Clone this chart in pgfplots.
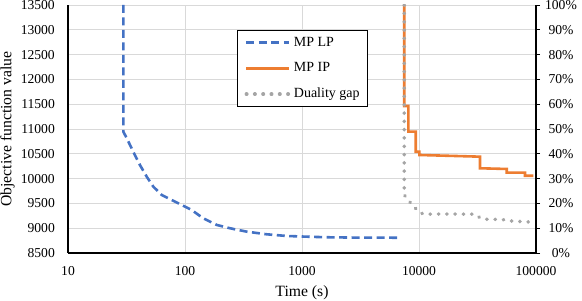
\documentclass[border=0pt]{standalone}
\usepackage{fontspec}
\setmainfont{Liberation Serif}
\usepackage{pgfplots}
\pgfplotsset{compat=1.18}
\definecolor{lpblue}{HTML}{4472C4}
\definecolor{iporange}{HTML}{ED7D31}
\definecolor{gapgray}{HTML}{A5A5A5}
\definecolor{gridgray}{HTML}{D9D9D9}
\tikzset{
  lpstyle/.style={lpblue, line width=2.6bp, dash pattern=on 8bp off 4.5bp},
  ipstyle/.style={iporange, line width=2.6bp},
  gapstyle/.style={gapgray, line width=3.6bp, line cap=round, dash pattern=on 0.4bp off 7.9bp},
}
\begin{document}
\begin{tikzpicture}
\begin{axis}[
  width=468bp, height=248bp, scale only axis,
  xmode=log, xmin=10, xmax=100000,
  /pgf/number format/assume math mode=true,
  /pgf/number format/1000 sep={},
  scaled y ticks=false,
  tick label style={font=\fontsize{13.6bp}{16bp}\selectfont},
  name=main,
  ymin=8500, ymax=13500, ytick distance=500,
  yticklabel={\pgfmathprintnumber[fixed,precision=0,1000 sep={}]{\tick}},
  xtick={10,100,1000,10000,100000}, xticklabels={10,100,1000,10000,100000},
  axis x line*=bottom, axis y line*=left,
  axis line style={-, black, line width=1.2bp},
  grid=major, major grid style={gridgray, line width=0.75bp},
  major tick length=0pt, minor tick length=0pt, tick style={draw=none},
  yticklabel style={anchor=east, inner sep=0pt, xshift=-13bp},
  xticklabel style={anchor=center, inner sep=0pt, yshift=-18bp},
  xlabel={Time (s)}, ylabel={Objective function value},
  label style={font=\fontsize{15.7bp}{18bp}\selectfont},
  xlabel style={at={(axis description cs:0.5,-0.1593)}, anchor=center},
  ylabel style={at={(axis description cs:-0.1293,0.5)}, anchor=center},
  legend style={at={(axis description cs:0.3605,0.899)}, anchor=north west,
    draw=black, line width=0.75bp, fill=white,
    inner xsep=7.5bp, inner ysep=5.7bp, row sep=12.8bp, column sep=2.7bp,
    font=\fontsize{14bp}{16bp}\selectfont,
    nodes={inner sep=0pt, text height=10bp, text depth=3bp, anchor=west}},
  legend cell align=left,
  legend image code/.code={\draw[#1] (0bp,0bp) -- (43bp,0bp);},
]
\addplot[lpstyle] coordinates {
 (29.7,13500) (29.7,10946) (31.8,10813) (36.1,10543) (41.2,10274) (47.1,10038)
 (53.6,9837) (63.2,9670) (77,9569) (93.7,9468) (114,9367) (143,9200) (187,9065)
 (243,8998) (337,8930) (499,8877) (740,8843) (1096,8829) (1626,8817) (3000,8810) (6610,8808)
};
\addlegendentry{MP LP}
\addplot[ipstyle] coordinates {
 (7480,13500) (7480,11464) (8110,11464) (8110,10946) (9380,10946) (9380,10542)
 (10070,10542) (10070,10476) (33200,10442) (33200,10208) (56200,10194) (56200,10119)
 (80500,10119) (80500,10058) (94900,10058)
};
\addlegendentry{MP IP}
\addlegendimage{gapstyle}
\addlegendentry{Duality gap}
\end{axis}
\begin{axis}[
  width=468bp, height=248bp, scale only axis,
  xmode=log, xmin=10, xmax=100000,
  /pgf/number format/assume math mode=true,
  tick label style={font=\fontsize{13.6bp}{16bp}\selectfont},
  ymin=0, ymax=100, ytick distance=10,
  axis y line*=right, axis x line=none,
  axis line style={-, black, line width=1.2bp},
  xtick=\empty,
  yticklabel={\pgfmathprintnumber{\tick}\%},
  tick align=outside, major tick length=4bp,
  ytick style={black, line width=0.75bp},
  yticklabel style={anchor=center, inner sep=0pt, xshift=21bp},
]
\addplot[gapstyle] coordinates {
 (7480,100) (7480,23.4) (8110,21.4) (8830,19.0) (9550,17.6) (10200,16.25) (11000,15.7)
 (30000,15.7) (33200,14.2) (36000,13.6) (52000,13.5) (56200,13.0) (80000,12.6) (94900,12.4)
};
\end{axis}
\pgfresetboundingbox
\path[use as bounding box] ([shift={(-68bp,-48bp)}]main.south west) rectangle ([shift={(46bp,5bp)}]main.north east);
\end{tikzpicture}
\end{document}
